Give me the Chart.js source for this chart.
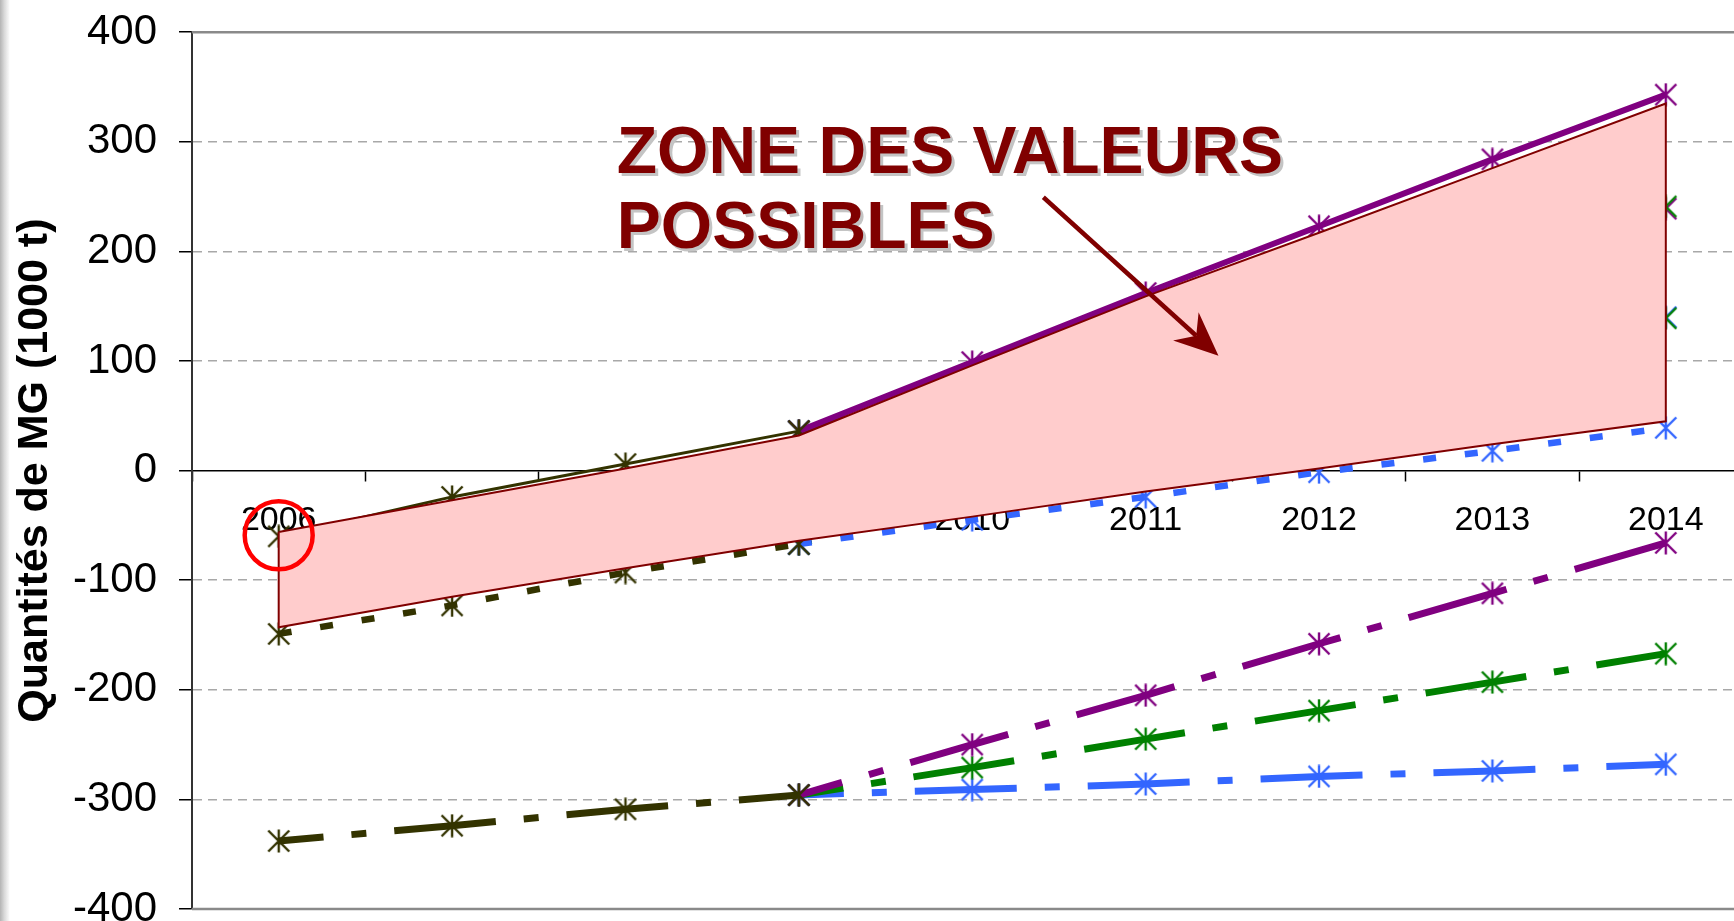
<!DOCTYPE html>
<html>
<head>
<meta charset="utf-8">
<script src="https://cdn.jsdelivr.net/npm/chart.js@4.4.1/dist/chart.umd.min.js"></script>
<style>
  html,body{margin:0;padding:0;background:#fff;overflow:hidden;}
  #wrap{position:relative;width:1734px;height:921px;overflow:hidden;}
  #c{position:absolute;left:0;top:-15px;}
  #edge{position:absolute;left:0;top:0;width:10px;height:100%;
    background:linear-gradient(to right,#b4b4b4,#dadada 45%,rgba(255,255,255,0));}
</style>
</head>
<body>
<div id="wrap">
  <canvas id="c" width="1791" height="975"></canvas>
  <div id="edge"></div>
</div>
<script>
(function(){
  // ---- data (1000 t) ----
  const years = ['2006','2007','2008','2009','2010','2011','2012','2013','2014'];

  // historique 2006-2009
  const histHaut    = [-60, -24, 6, 36, null, null, null, null, null];
  const histBas     = [-149, -123, -93, -67, null, null, null, null, null];
  const histDeficit = [-338, -324, -309, -296, null, null, null, null, null];

  // scénarios haut (trait plein)
  const hautViolet = [null, null, null, 36, 99, 162, 223, 284, 343];
  const hautVert   = [null, null, null, 36, 78, 120, 161, 201, 241];
  const hautBleu   = [null, null, null, 36, 58, 79, 100, 120, 140];

  // scénarios bas (pointillé)
  const basViolet = [null, null, null, -67, -6, 55, 116, 177, 239];
  const basVert   = [null, null, null, -67, -26, 15, 56, 97, 139];
  const basBleu   = [null, null, null, -67, -45, -24, -1.5, 18, 39];

  // scénarios déficit (mixte)
  const defViolet = [null, null, null, -296, -250, -205, -158, -112, -66];
  const defVert   = [null, null, null, -296, -271, -245, -219, -193, -167];
  const defBleu   = [null, null, null, -296, -291, -286, -279, -274, -268];

  // zone des valeurs possibles
  const zoneHaut = [-56, -27, 2, 32, 96, 159, 217, 276, 335];
  const zoneBas  = [-143, -115, -89, -64, -42, -19, 2, 24, 45];

  const yMin = -400, yMax = 400, yStep = 100;

  // annotation anchors (category index, value)
  const noteText = ['ZONE DES VALEURS', 'POSSIBLES'];
  const noteX = 1.95, noteY = [271.5, 203.3];
  const arrowFrom = [4.41, 249.4], arrowTo = [5.42, 104.7];
  const circleAt = {x: '2006', y: -59};

  // ---- colours ----
  const OLIVE = '#333300', VIOLET = '#800080', VERT = '#008000', BLEU = '#3366FF';
  const ROUGE = '#800000';
  const FONT = '"Liberation Sans", Arial, sans-serif';

  // excel-like star marker: X plus vertical bar
  function star(color){
    const c = document.createElement('canvas');
    c.width = 24; c.height = 24;
    const g = c.getContext('2d');
    g.strokeStyle = color; g.lineWidth = 2.4; g.lineCap = 'butt';
    g.beginPath();
    g.moveTo(1.5, 1.5); g.lineTo(22.5, 22.5);
    g.moveTo(22.5, 1.5); g.lineTo(1.5, 22.5);
    g.moveTo(12, 0.5); g.lineTo(12, 23.5);
    g.stroke();
    return c;
  }
  const mk = {olive: star(OLIVE), violet: star(VIOLET), vert: star(VERT), bleu: star(BLEU)};

  const SOLID = [], DOT = [13, 29], DASHDOT = [102, 28, 15, 28];

  function serie(data, color, marker, dash, width, order, dashOffset){
    return {
      data, borderColor: color, backgroundColor: color,
      borderWidth: width, borderDash: dash, borderDashOffset: dashOffset || 0,
      borderCapStyle: 'butt', tension: 0, fill: false,
      pointStyle: marker, pointRadius: 11, pointHoverRadius: 11,
      order
    };
  }

  // closed outline of the zone, in data order
  const zoneEdge = years.map((y, i) => ({x: y, y: zoneHaut[i]}))
    .concat(years.slice().reverse().map((y, k) => ({x: y, y: zoneBas[years.length - 1 - k]})));
  zoneEdge.push({x: years[0], y: zoneHaut[0]});

  const datasets = [
    { data: [circleAt], showLine: false, pointStyle: 'circle', pointRadius: 34,
      pointBorderWidth: 4.5, pointBorderColor: '#FF0000', pointBackgroundColor: 'rgba(0,0,0,0)', order: 0 },
    { data: zoneEdge, borderColor: ROUGE, borderWidth: 2, pointRadius: 0, fill: false, tension: 0, order: 1 },
    { data: zoneHaut, borderWidth: 0, pointRadius: 0, fill: '+1', backgroundColor: '#FFCCCC', tension: 0, order: 2 },
    { data: zoneBas, borderWidth: 0, pointRadius: 0, fill: false, tension: 0, order: 3 },

    serie(histHaut, OLIVE, mk.olive, SOLID, 3, 4),
    serie(histBas, OLIVE, mk.olive, DOT, 6.5, 4),
    serie(histDeficit, OLIVE, mk.olive, DASHDOT, 7, 4, 57),

    serie(hautViolet, VIOLET, mk.violet, SOLID, 6, 5),
    serie(basBleu, BLEU, mk.bleu, DOT, 6.5, 5),
    serie(defViolet, VIOLET, mk.violet, DASHDOT, 7, 5, 57),
    serie(defVert, VERT, mk.vert, DASHDOT, 7, 5, 57),
    serie(defBleu, BLEU, mk.bleu, DASHDOT, 7, 5, 57),

    serie(hautVert, VERT, mk.vert, SOLID, 6, 6),
    serie(basVert, VERT, mk.vert, DOT, 6.5, 6),
    serie(hautBleu, BLEU, mk.bleu, SOLID, 6, 7),
    serie(basViolet, VIOLET, mk.violet, DOT, 6.5, 7)
  ];

  const frameAndNotes = {
    id: 'frameAndNotes',
    beforeDatasetsDraw(chart){
      const {ctx, chartArea: a} = chart;
      ctx.save();
      ctx.strokeStyle = '#8a8a8a'; ctx.lineWidth = 2.5;
      ctx.beginPath();
      ctx.moveTo(a.left, a.top); ctx.lineTo(a.right, a.top);
      ctx.moveTo(a.left, a.bottom); ctx.lineTo(a.right, a.bottom);
      ctx.stroke();
      ctx.restore();
    },
    afterDatasetsDraw(chart){
      const {ctx} = chart;
      const xs = chart.scales.x, ys = chart.scales.y;
      ctx.save();
      // label
      ctx.font = 'bold 66px ' + FONT;
      ctx.textBaseline = 'alphabetic';
      ctx.textAlign = 'left';
      const tx = xs.getPixelForValue(noteX);
      noteText.forEach((t, i) => {
        const ty = ys.getPixelForValue(noteY[i]);
        ctx.fillStyle = '#c4c4c4';
        ctx.fillText(t, tx + 3, ty + 3);
        ctx.fillStyle = ROUGE;
        ctx.fillText(t, tx, ty);
      });
      // arrow
      const x0 = xs.getPixelForValue(arrowFrom[0]), y0 = ys.getPixelForValue(arrowFrom[1]);
      const x1 = xs.getPixelForValue(arrowTo[0]), y1 = ys.getPixelForValue(arrowTo[1]);
      const len = Math.hypot(x1 - x0, y1 - y0);
      const ux = (x1 - x0) / len, uy = (y1 - y0) / len;
      const nx = -uy, ny = ux;
      const back = 44, half = 19, notch = 30;
      ctx.strokeStyle = ROUGE; ctx.lineWidth = 4.5;
      ctx.beginPath();
      ctx.moveTo(x0, y0);
      ctx.lineTo(x1 - ux * notch, y1 - uy * notch);
      ctx.stroke();
      ctx.fillStyle = ROUGE;
      ctx.beginPath();
      ctx.moveTo(x1, y1);
      ctx.lineTo(x1 - ux * back + nx * half, y1 - uy * back + ny * half);
      ctx.lineTo(x1 - ux * notch, y1 - uy * notch);
      ctx.lineTo(x1 - ux * back - nx * half, y1 - uy * back - ny * half);
      ctx.closePath();
      ctx.fill();
      ctx.restore();
    }
  };

  new Chart(document.getElementById('c'), {
    type: 'line',
    data: { labels: years, datasets },
    options: {
      responsive: false,
      animation: false,
      events: [],
      layout: { padding: { left: 0, top: 15, right: 8, bottom: 51 } },
      plugins: { legend: { display: false }, tooltip: { enabled: false } },
      scales: {
        x: {
          type: 'category',
          position: { y: 0 },
          offset: true,
          grid: { offset: true, drawOnChartArea: false, drawTicks: true, tickLength: 10,
                  tickColor: '#000', tickWidth: 1.5 },
          border: { display: true, color: '#000', width: 1.5 },
          ticks: { color: '#000', font: { family: FONT, size: 34 }, padding: 20,
                   maxRotation: 0, autoSkip: false }
        },
        y: {
          min: yMin, max: yMax,
          afterFit(s){ s.width = 192; },
          grid: {
            color: c => (c.tick && (c.tick.value === yMax || c.tick.value === yMin || c.tick.value === 0))
                        ? 'rgba(0,0,0,0)' : '#a8a8a8',
            lineWidth: 1.5, drawTicks: true, tickLength: 13, tickColor: '#000', tickWidth: 1.5
          },
          border: { display: true, color: '#333', width: 2, dash: [9, 6] },
          ticks: { stepSize: yStep, color: '#000', font: { family: FONT, size: 42 }, padding: 22 },
          title: { display: true, text: 'Quantités de MG (1000 t)', color: '#000',
                   font: { family: FONT, size: 43, weight: 'bold' }, padding: { top: 9, bottom: 0 } }
        }
      }
    },
    plugins: [frameAndNotes]
  });
})();
</script>
</body>
</html>
